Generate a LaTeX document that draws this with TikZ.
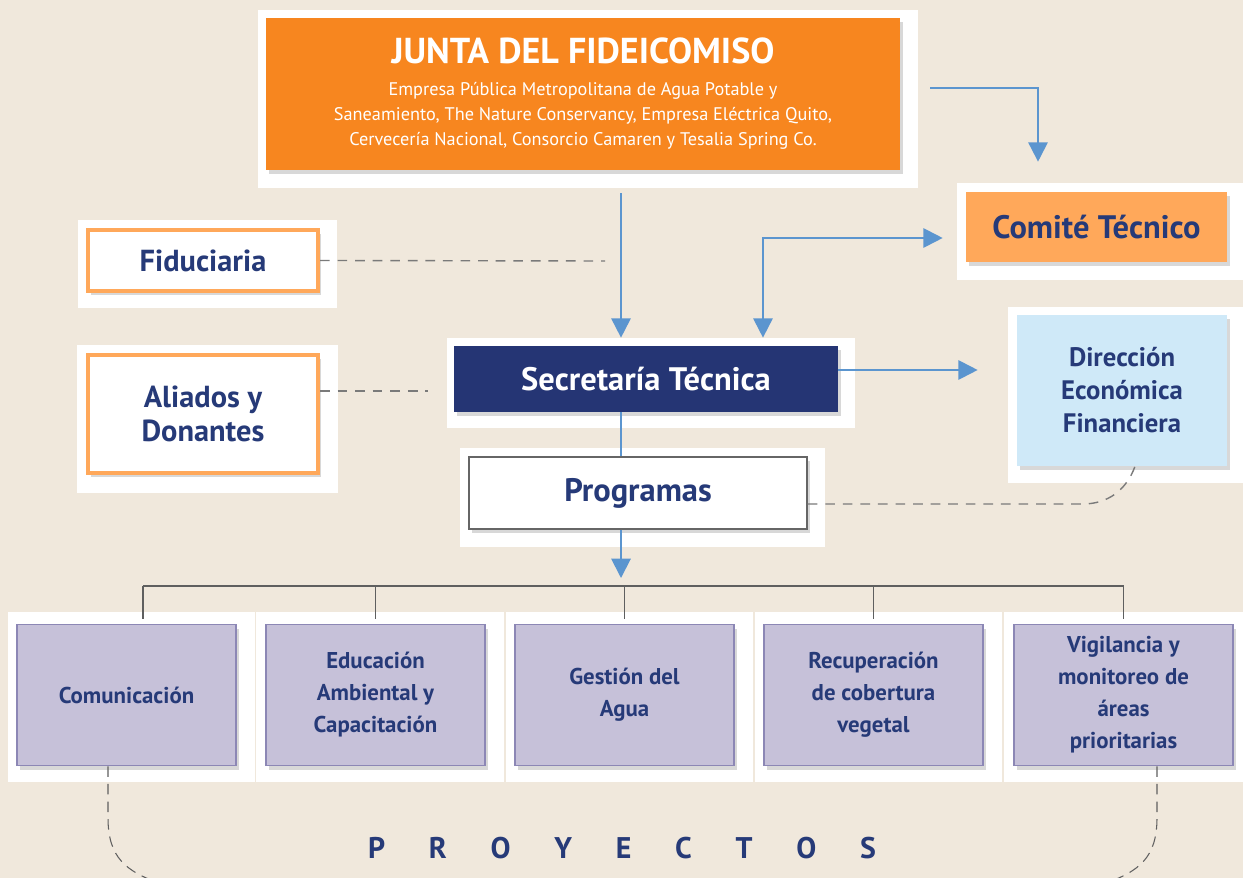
\documentclass[tikz,border=0pt]{standalone}
\usepackage{fontspec}
\setmainfont{PT Sans}
\usepackage{tikz}
\usetikzlibrary{arrows.meta,shadows}

\definecolor{paper}{HTML}{F0E8DC}
\definecolor{ink}{HTML}{263A78}
\definecolor{orangeA}{HTML}{F7861F}
\definecolor{orangeB}{HTML}{FFA85A}
\definecolor{navy}{HTML}{253574}
\definecolor{sky}{HTML}{CFE9F8}
\definecolor{lilac}{HTML}{C6C1D9}
\definecolor{lilacline}{HTML}{8C87B5}
\definecolor{flow}{HTML}{5B95CF}
\definecolor{dashgray}{HTML}{7A7A7A}
\definecolor{bargray}{HTML}{5F5F5F}

\begin{document}
\begin{tikzpicture}[
   x=0.02cm,y=-0.02cm,
   font=\bfseries,
   every node/.style={text=ink},
   card/.style={inner sep=0pt,align=center,
      drop shadow={shadow xshift=1.5pt,shadow yshift=-2.5pt,opacity=.3}},
   board/.style={card,fill=orangeA,text=white,minimum width=12.68cm,minimum height=3.04cm,
      font=\fontsize{10.4}{14.2}\selectfont},
   committee/.style={card,fill=orangeB,minimum width=5.22cm,minimum height=1.4cm,
      font=\bfseries\fontsize{18.5}{22}\selectfont},
   partner/.style={card,fill=white,draw=orangeB,line width=2.3pt,minimum width=4.6cm,
      font=\bfseries\fontsize{17.3}{19.5}\selectfont},
   secretary/.style={card,fill=navy,text=white,minimum width=7.68cm,minimum height=1.32cm,
      font=\bfseries\fontsize{18.5}{22}\selectfont},
   programs/.style={card,fill=white,draw=gray!80!black,line width=0.8pt,minimum width=6.76cm,
      minimum height=1.44cm,font=\bfseries\fontsize{18.5}{22}\selectfont},
   finance/.style={card,fill=sky,minimum width=4.2cm,minimum height=3.02cm,
      font=\bfseries\fontsize{15.2}{18.8}\selectfont},
   project/.style={card,fill=lilac,draw=lilacline,line width=1pt,minimum width=4.38cm,
      minimum height=2.82cm,font=\bfseries\fontsize{13}{18.2}\selectfont},
   arr/.style={draw=flow,line width=1.1pt,-{Triangle[width=11pt,length=11pt]}},
   arrs/.style={draw=flow,line width=1.1pt,{Triangle[width=11pt,length=11pt]}-{Triangle[width=11pt,length=11pt]}},
   link/.style={draw=dashgray,line width=0.8pt,dash pattern=on 5.5pt off 4.5pt},
   loop/.style={draw=bargray,line width=0.6pt,dash pattern=on 6pt off 4pt},
   bar/.style={draw=bargray,line width=0.8pt}]

\useasboundingbox (0,0) rectangle (1243,878);
\clip (0,0) rectangle (1243,878);
\fill[paper] (0,0) rectangle (1243,878);

% white frames
\foreach \a/\b/\c/\d in {258/10/918/188, 957/183/1243/280, 78/220/337/308,
   77/345/338/493, 447/338/855/428, 460/448/825/547, 1008/307/1243/483,
   8/612/255/782, 256/612/504/782, 506/612/753/782, 755/612/1002/782, 1004/612/1243/782}
   \fill[white] (\a,\b) rectangle (\c,\d);

% boxes
\node[board] (junta) at (583,94) {{\bfseries\fontsize{20.5}{24}\selectfont JUNTA DEL FIDEICOMISO}\\[4pt]
   Empresa Pública Metropolitana de Agua Potable y\\
   Saneamiento, The Nature Conservancy, Empresa Eléctrica Quito,\\
   Cervecería Nacional, Consorcio Camaren y Tesalia Spring Co.};
\node[committee] (comite) at (1096.5,227) {Comité Técnico};
\node[partner,minimum height=1.22cm] (fidu) at (203,260.5) {Fiduciaria};
\node[partner,minimum height=2.36cm] (aliados) at (203,414) {Aliados y\\Donantes};
\node[secretary] (secre) at (646,379) {Secretaría Técnica};
\node[programs] (prog) at (638,493) {Programas};
\node[finance] (direc) at (1122,390.5) {Dirección\\Económica\\Financiera};
\foreach \i/\x/\txt in {1/126.5/{Comunicación}, 2/375.5/{Educación\\Ambiental y\\Capacitación},
   3/624.5/{Gestión del\\Agua}, 4/873.5/{Recuperación\\de cobertura\\vegetal},
   5/1123.5/{Vigilancia y\\monitoreo de\\áreas\\prioritarias}}
   \node[project] (p\i) at (\x,695) {\txt};
\node[font=\bfseries\fontsize{17}{20}\selectfont] (proy) at (622,848)
   {\makebox[10.16cm][s]{P\hfill R\hfill O\hfill Y\hfill E\hfill C\hfill T\hfill O\hfill S}};

% connectors
\coordinate (axis) at (621,0);
\coordinate (progtip) at (621,578);
\coordinate (barline) at (622,586);
\coordinate (fidu-end) at (605,261);
\coordinate (ali-end) at (428,391);
\coordinate (projL) at (165,885);
\coordinate (projR) at (1100,885);

\draw[arr,shorten <=0.46cm,shorten >=0.16cm] (junta.south -| axis) -- (secre.north -| axis);
\draw[arr,shorten <=0.6cm,shorten >=0.6cm] ([yshift=0.12cm]junta.east) -| ([xshift=-1.17cm]comite.north);
\draw[arrs,shorten <=0.16cm,shorten >=0.46cm] ([xshift=2.34cm]secre.north) |- ([yshift=-0.22cm]comite.west);
\coordinate (st-r) at ([yshift=0.18cm]secre.east);
\draw[arr,shorten >=0.78cm] (st-r) -- (st-r -| direc.west);
\draw[draw=flow,line width=1.1pt] (secre.south -| axis) -- (prog.north -| axis);
\draw[arr] (prog.south -| axis) -- (progtip);

\draw[bar] ([xshift=0.33cm]p1.north |- barline) -- (p5.north |- barline);
\foreach \i/\dx in {1/0.33,2/0,3/0,4/0,5/0}
   \draw[bar,shorten >=2.8pt] ([xshift=\dx cm]p\i.north |- barline) -- ([xshift=\dx cm]p\i.north);

\draw[link] (fidu.east) -- (fidu-end);
\draw[link] (aliados.east |- ali-end) -- (ali-end);
\draw[link] ([yshift=-0.22cm]prog.east) -- ++(275,0) to[out=0,in=-110] ([xshift=0.26cm]direc.south);

\draw[loop] ([xshift=-0.37cm]p1.south) -- ++(0,51) .. controls +(0,40) and +(-40,-13) .. (projL);
\draw[loop] ([xshift=0.67cm]p5.south) -- ++(0,51) .. controls +(0,40) and +(40,-13) .. (projR);
\end{tikzpicture}
\end{document}
